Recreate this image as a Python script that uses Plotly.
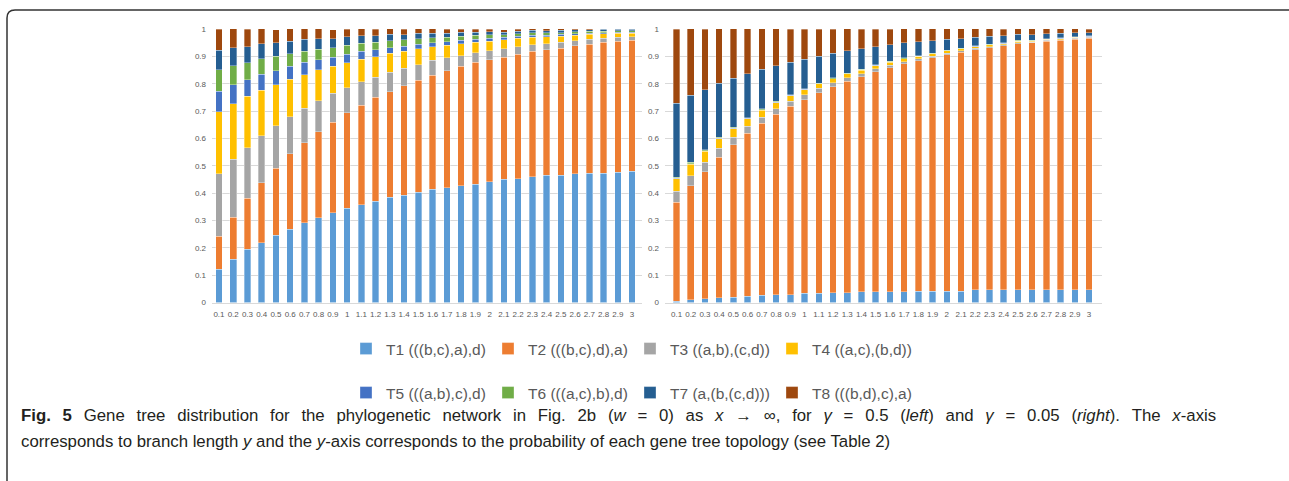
import plotly.graph_objects as go

# ---------------- data ----------------
branch_length = ["0.1", "0.2", "0.3", "0.4", "0.5", "0.6", "0.7", "0.8", "0.9", "1",
                 "1.1", "1.2", "1.3", "1.4", "1.5", "1.6", "1.7", "1.8", "1.9", "2",
                 "2.1", "2.2", "2.3", "2.4", "2.5", "2.6", "2.7", "2.8", "2.9", "3"]

series_names = ["T1 (((b,c),a),d)", "T2 (((b,c),d),a)", "T3 ((a,b),(c,d))", "T4 ((a,c),(b,d))",
                "T5 (((a,b),c),d)", "T6 (((a,c),b),d)", "T7 (a,(b,(c,d)))", "T8 (((b,d),c),a)"]
series_colors = ["#5B9BD5", "#ED7D31", "#A5A5A5", "#FFC000",
                 "#4472C4", "#70AD47", "#255E91", "#9E480E"]

# gamma = 0.5 (left)
left_T1 = [0.122, 0.159, 0.194, 0.219, 0.245, 0.268, 0.291, 0.310, 0.328, 0.345,
           0.357, 0.370, 0.384, 0.393, 0.404, 0.414, 0.420, 0.427, 0.433, 0.442,
           0.451, 0.453, 0.460, 0.465, 0.466, 0.470, 0.473, 0.473, 0.476, 0.480]
left_T2 = [0.121, 0.153, 0.187, 0.219, 0.245, 0.275, 0.293, 0.315, 0.331, 0.348,
           0.365, 0.381, 0.387, 0.400, 0.409, 0.417, 0.427, 0.436, 0.445, 0.446,
           0.446, 0.454, 0.458, 0.459, 0.464, 0.468, 0.472, 0.478, 0.479, 0.478]
left_T3 = [0.227, 0.211, 0.185, 0.172, 0.157, 0.137, 0.126, 0.112, 0.106, 0.093,
           0.086, 0.073, 0.070, 0.063, 0.057, 0.054, 0.047, 0.040, 0.036, 0.033,
           0.030, 0.029, 0.025, 0.023, 0.022, 0.019, 0.017, 0.015, 0.014, 0.013]
left_T4 = [0.228, 0.203, 0.188, 0.166, 0.149, 0.137, 0.123, 0.114, 0.098, 0.091,
           0.082, 0.075, 0.070, 0.062, 0.057, 0.050, 0.046, 0.043, 0.038, 0.035,
           0.033, 0.030, 0.027, 0.025, 0.022, 0.021, 0.018, 0.016, 0.015, 0.014]
left_T5 = [0.075, 0.071, 0.060, 0.059, 0.052, 0.046, 0.045, 0.037, 0.033, 0.031,
           0.028, 0.025, 0.021, 0.019, 0.017, 0.015, 0.014, 0.013, 0.011, 0.010,
           0.009, 0.008, 0.007, 0.006, 0.006, 0.005, 0.005, 0.004, 0.004, 0.004]
left_T6 = [0.078, 0.068, 0.063, 0.056, 0.052, 0.046, 0.041, 0.038, 0.036, 0.033,
           0.030, 0.027, 0.025, 0.023, 0.020, 0.018, 0.016, 0.015, 0.014, 0.013,
           0.010, 0.009, 0.009, 0.008, 0.007, 0.007, 0.006, 0.006, 0.005, 0.005]
left_T7 = [0.071, 0.067, 0.058, 0.055, 0.049, 0.047, 0.043, 0.039, 0.033, 0.030,
           0.028, 0.025, 0.023, 0.019, 0.020, 0.017, 0.014, 0.014, 0.012, 0.011,
           0.010, 0.009, 0.009, 0.008, 0.008, 0.008, 0.007, 0.007, 0.006, 0.006]
left_T8 = [0.078, 0.070, 0.064, 0.057, 0.049, 0.045, 0.039, 0.037, 0.033, 0.029,
           0.026, 0.024, 0.022, 0.020, 0.017, 0.016, 0.015, 0.012, 0.011, 0.010,
           0.009, 0.008, 0.007, 0.007, 0.006, 0.005, 0.005, 0.004, 0.004, 0.003]

# gamma = 0.05 (right)
right_T1 = [0.005, 0.010, 0.013, 0.018, 0.019, 0.023, 0.027, 0.029, 0.029, 0.033,
            0.033, 0.036, 0.036, 0.040, 0.040, 0.040, 0.040, 0.042, 0.042, 0.042,
            0.042, 0.046, 0.046, 0.046, 0.046, 0.046, 0.046, 0.046, 0.046, 0.046]
right_T2 = [0.362, 0.417, 0.465, 0.514, 0.557, 0.595, 0.628, 0.659, 0.688, 0.709,
            0.734, 0.753, 0.773, 0.785, 0.804, 0.819, 0.833, 0.842, 0.853, 0.864,
            0.873, 0.879, 0.886, 0.892, 0.900, 0.903, 0.909, 0.912, 0.917, 0.920]
right_T3 = [0.040, 0.037, 0.035, 0.032, 0.029, 0.026, 0.023, 0.021, 0.019, 0.018,
            0.016, 0.014, 0.013, 0.012, 0.010, 0.009, 0.008, 0.007, 0.006, 0.006,
            0.005, 0.005, 0.004, 0.004, 0.004, 0.003, 0.003, 0.003, 0.003, 0.003]
right_T4 = [0.045, 0.042, 0.040, 0.035, 0.030, 0.027, 0.025, 0.022, 0.020, 0.018,
            0.016, 0.015, 0.014, 0.013, 0.012, 0.011, 0.010, 0.009, 0.008, 0.008,
            0.007, 0.006, 0.006, 0.005, 0.005, 0.004, 0.004, 0.004, 0.003, 0.003]
right_T5 = [0.002, 0.002, 0.002, 0.002, 0.002, 0.002, 0.002, 0.001, 0.001, 0.001,
            0.001, 0.001, 0.001, 0.001, 0.001, 0.001, 0.001, 0.001, 0.001, 0.001,
            0.001, 0.001, 0.001, 0.001, 0.001, 0.001, 0.001, 0.001, 0.001, 0.001]
right_T6 = [0.004, 0.004, 0.004, 0.004, 0.003, 0.003, 0.003, 0.003, 0.003, 0.003,
            0.002, 0.002, 0.002, 0.002, 0.002, 0.002, 0.002, 0.002, 0.002, 0.002,
            0.002, 0.002, 0.002, 0.002, 0.002, 0.002, 0.002, 0.002, 0.002, 0.002]
right_T7 = [0.270, 0.246, 0.218, 0.197, 0.180, 0.161, 0.145, 0.130, 0.119, 0.108,
            0.099, 0.090, 0.082, 0.074, 0.067, 0.061, 0.056, 0.050, 0.045, 0.040,
            0.035, 0.031, 0.028, 0.025, 0.022, 0.020, 0.018, 0.016, 0.014, 0.012]
right_T8 = [0.272, 0.244, 0.223, 0.201, 0.182, 0.165, 0.149, 0.136, 0.121, 0.110,
            0.098, 0.088, 0.082, 0.073, 0.064, 0.057, 0.051, 0.048, 0.044, 0.039,
            0.037, 0.033, 0.030, 0.025, 0.023, 0.022, 0.019, 0.018, 0.016, 0.013]

left_series = [left_T1, left_T2, left_T3, left_T4, left_T5, left_T6, left_T7, left_T8]
right_series = [right_T1, right_T2, right_T3, right_T4, right_T5, right_T6, right_T7, right_T8]

caption_line1 = ("<b>Fig. 5</b> Gene tree distribution for the phylogenetic network in Fig. 2b "
                 "(<i>w</i> = 0) as <i>x</i> → ∞, for <i>γ</i> = 0.5 (<i>left</i>) and "
                 "<i>γ</i> = 0.05 (<i>right</i>). The <i>x</i>-axis")
caption_line2 = ("corresponds to branch length <i>y</i> and the <i>y</i>-axis corresponds to the "
                 "probability of each gene tree topology (see Table 2)")

# ---------------- figure ----------------
W, H = 1289, 481


def px_x(p):
    return p / W


def px_y(p):
    return 1 - p / H


fig = go.Figure()

for i, (name, color) in enumerate(zip(series_names, series_colors)):
    legend_id = "legend" if i < 4 else "legend2"
    fig.add_trace(go.Bar(
        x=branch_length, y=left_series[i], name=name,
        marker=dict(color=color, line=dict(color="rgba(255,255,255,0.55)", width=0.6)),
        xaxis="x", yaxis="y", legendgroup=name, legend=legend_id, showlegend=True,
    ))
    fig.add_trace(go.Bar(
        x=branch_length, y=right_series[i], name=name,
        marker=dict(color=color, line=dict(color="rgba(255,255,255,0.55)", width=0.6)),
        xaxis="x2", yaxis="y2", legendgroup=name, legend=legend_id, showlegend=False,
    ))

tick_font = dict(family="Liberation Sans, Arial, sans-serif", size=8, color="#595959")
y_dom = [px_y(302.5), px_y(29)]

common_x = dict(type="category", showgrid=False, showline=True, linecolor="#d9d9d9",
                linewidth=1, ticks="", tickfont=tick_font, tickangle=0, fixedrange=True,
                automargin=False, ticklabelstandoff=4)
common_y = dict(range=[0, 1], dtick=0.1, showgrid=True, gridcolor="#d9d9d9", gridwidth=1,
                zeroline=False, showline=False, ticks="", tickfont=tick_font,
                ticklabelstandoff=5, domain=y_dom, fixedrange=True, automargin=False)

legend_font = dict(family="Liberation Sans, Arial, sans-serif", size=15.5, color="#595959")

fig.update_layout(
    width=W, height=H, autosize=False,
    margin=dict(l=0, r=0, t=0, b=0, pad=0, autoexpand=False),
    paper_bgcolor="white", plot_bgcolor="white",
    barmode="stack", bargap=0.54,
    xaxis=dict(common_x, domain=[px_x(212), px_x(642)], range=[-0.49, 29.7], anchor="y"),
    yaxis=dict(common_y, anchor="x"),
    xaxis2=dict(common_x, domain=[px_x(665), px_x(1102)], range=[-0.81, 29.91], anchor="y2"),
    yaxis2=dict(common_y, anchor="x2"),
    legend=dict(orientation="h", x=px_x(346), xanchor="left", y=px_y(349), yanchor="middle",
                font=legend_font, entrywidth=97, entrywidthmode="pixels",
                traceorder="normal", bgcolor="rgba(0,0,0,0)", itemclick=False,
                itemdoubleclick=False, tracegroupgap=0),
    legend2=dict(orientation="h", x=px_x(346), xanchor="left", y=px_y(393), yanchor="middle",
                 font=legend_font, entrywidth=97, entrywidthmode="pixels",
                 traceorder="normal", bgcolor="rgba(0,0,0,0)", itemclick=False,
                 itemdoubleclick=False, tracegroupgap=0),
    showlegend=True,
)

# first caption line is justified in the reference: widen its word gaps
justified_gap = "\u2002\u2009"
cap_font = dict(family="Liberation Sans, Arial, sans-serif", size=16.8, color="#231f20")
fig.add_annotation(text=caption_line1.replace(" ", justified_gap), xref="paper", yref="paper",
                   x=px_x(19), y=px_y(415), xanchor="left", yanchor="middle", showarrow=False,
                   font=cap_font, align="left")
fig.add_annotation(text=caption_line2, xref="paper", yref="paper", x=px_x(19), y=px_y(441),
                   xanchor="left", yanchor="middle", showarrow=False, font=cap_font, align="left")

# frame around the figure panel
frame_path = (f"M {px_x(7)},{px_y(481)} L {px_x(7)},{px_y(18)} "
              f"Q {px_x(7)},{px_y(10)} {px_x(15)},{px_y(10)} L {px_x(1289)},{px_y(10)}")
fig.add_shape(type="path", path=frame_path, xref="paper", yref="paper",
              line=dict(color="#333333", width=1.5), layer="above")

fig.write_html("out.html", config={"displayModeBar": False},
               post_script="document.body.style.margin='0';document.body.style.overflow='hidden';")
